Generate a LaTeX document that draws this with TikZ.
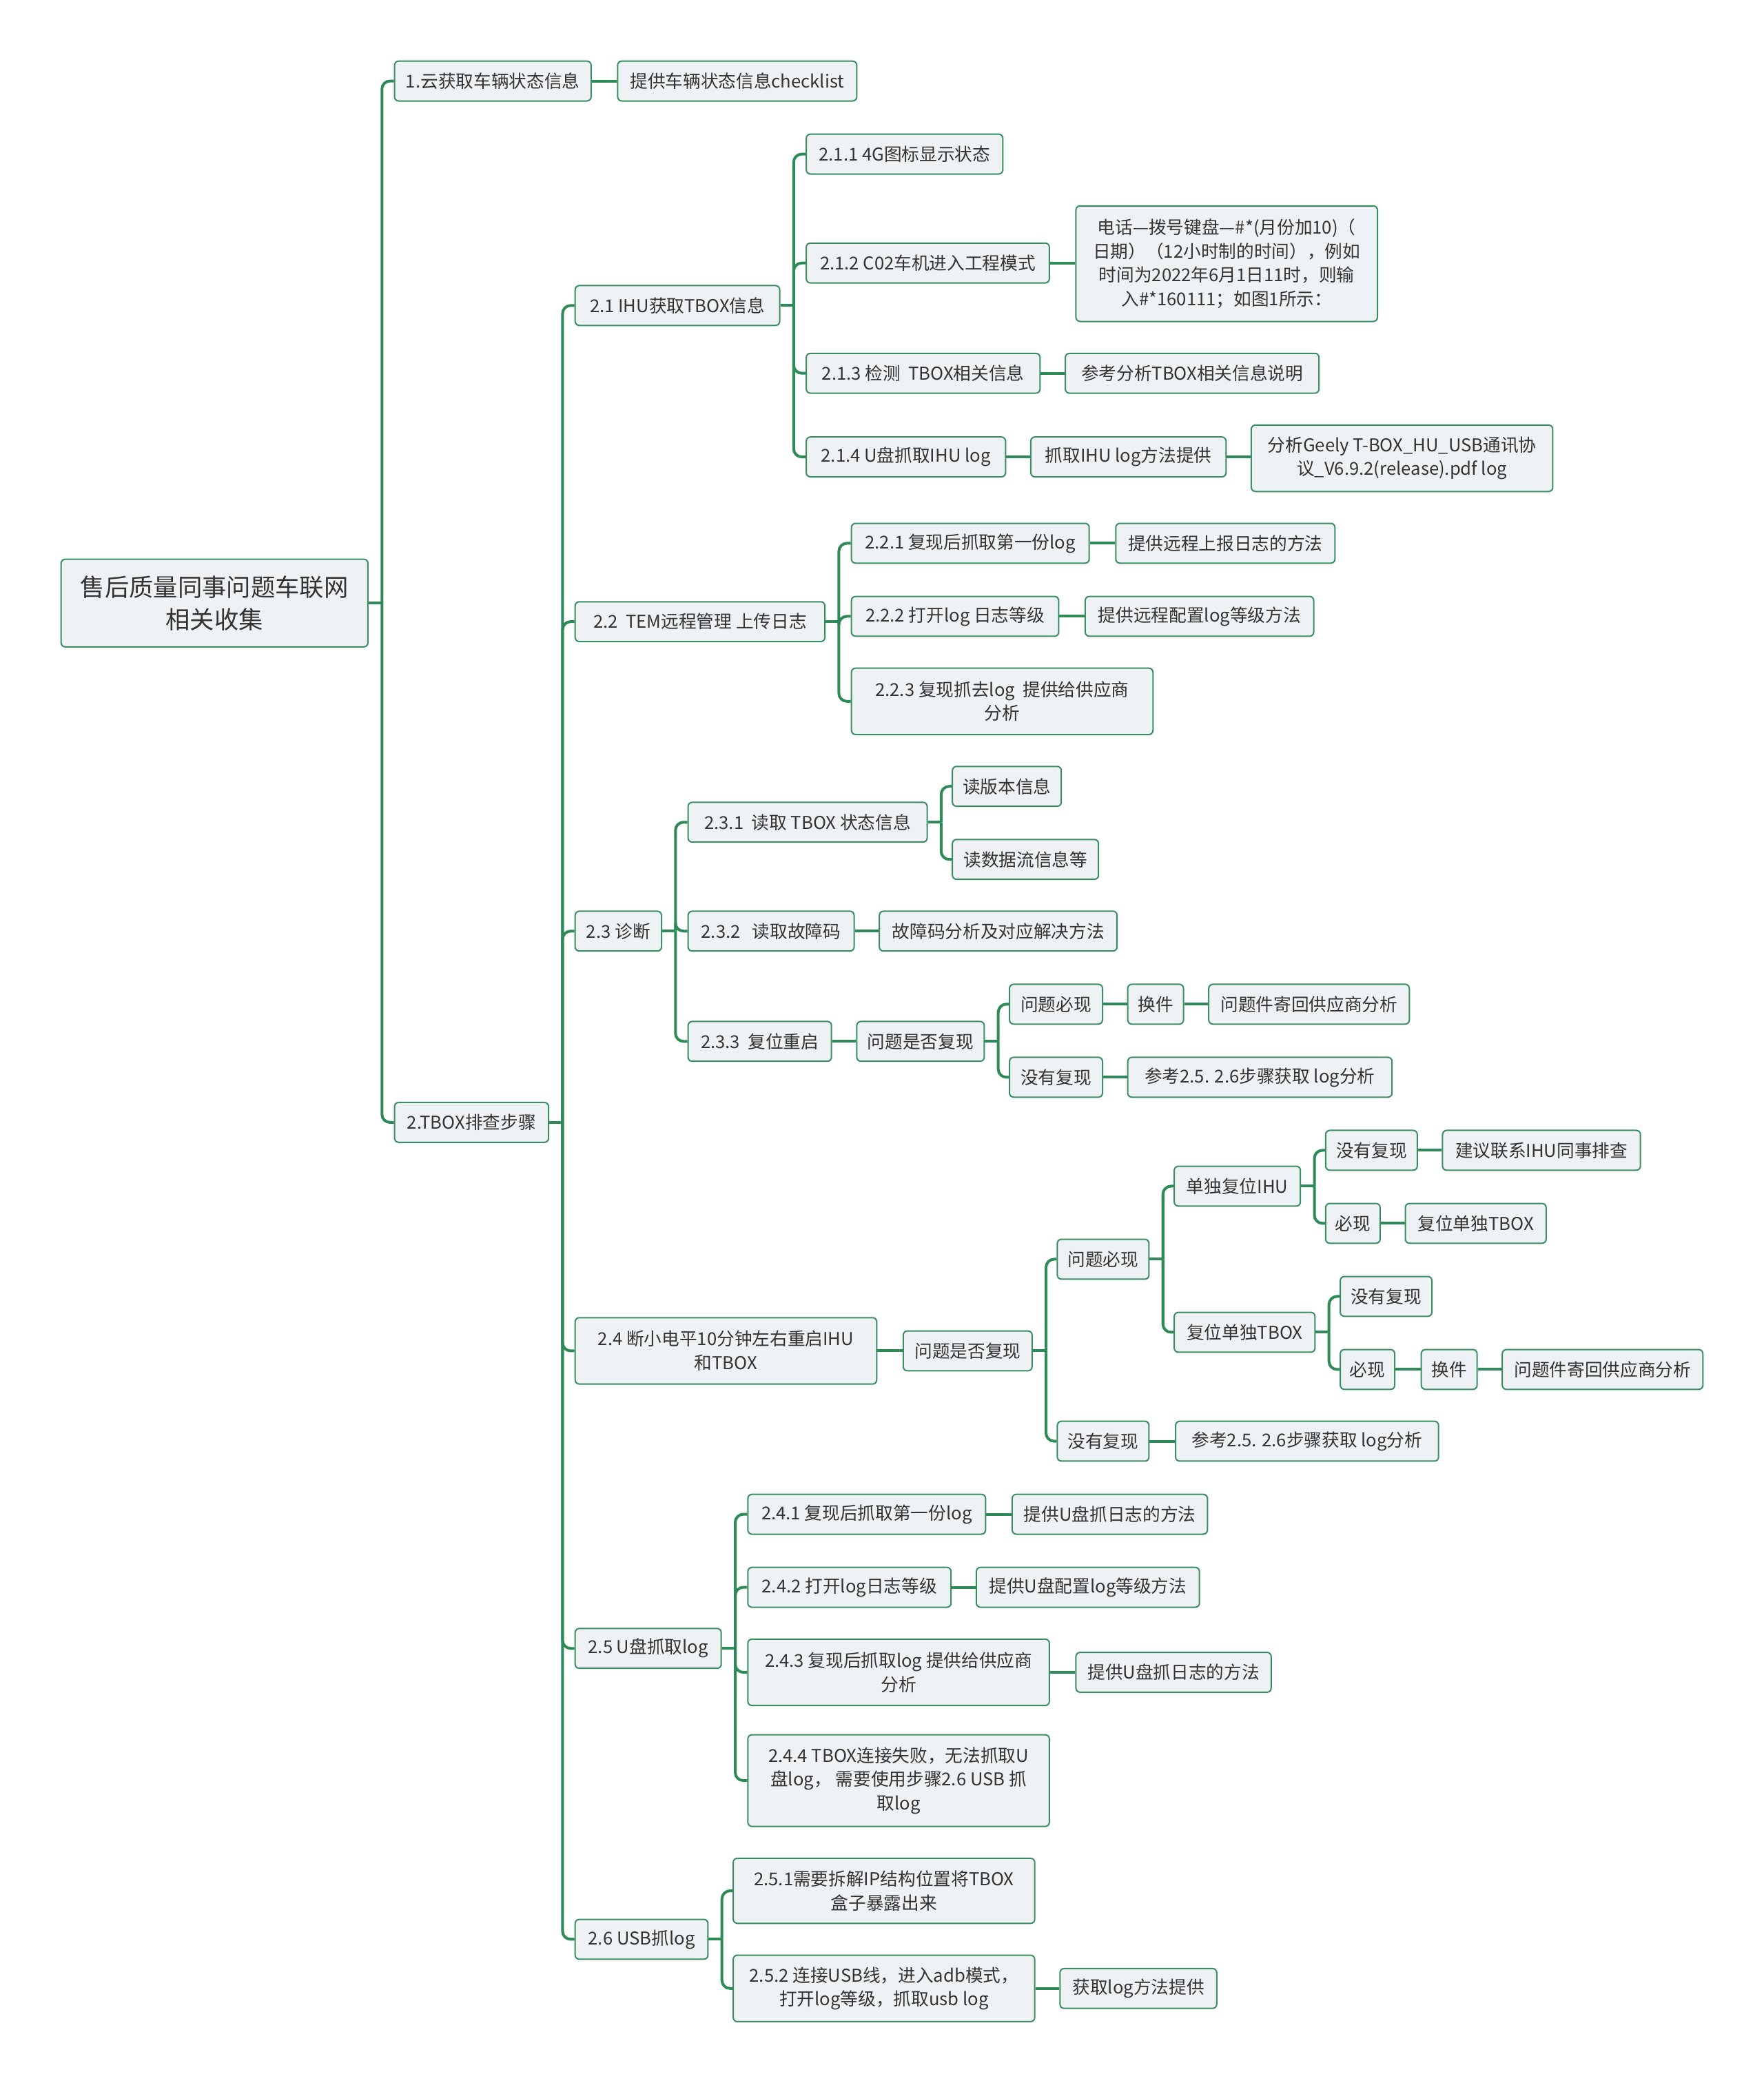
\documentclass[tikz,border=0pt]{standalone}
\usepackage{fontspec}
\setmainfont{Noto Sans CJK SC}
\definecolor{lnc}{HTML}{2E8B57}
\definecolor{bdc}{HTML}{3A8F60}
\definecolor{bfc}{HTML}{EEF2F4}
\definecolor{txc}{HTML}{333333}
\newcommand\bx[7][]{\node[bx,#1,minimum width={(#5-#3)*0.5783pt},minimum height={(#6-#4)*0.5783pt}] (#2) at ({(#3+#5)/2},{(#4+#6)/2}) {#7};}
\newcommand\lnk[2]{\draw[conn] (#1.east) -- ++(10,0) coordinate (#1bus); \draw[conn,rounded corners=3.5pt] (#1bus) |- (#2.west);}
\newcommand\lnks[2]{\draw[conn] (#1.east) -- (#1.east -| #2.west);}
\begin{document}
\begin{tikzpicture}[x=0.5783pt,y=-0.5783pt,
  bx/.style={draw=bdc,fill=bfc,rounded corners=1.8pt,line width=0.6pt,text=txc,
    font=\fontsize{7.7}{10.4}\selectfont,align=center,inner xsep=1pt,inner ysep=1pt},
  rootbx/.style={font=\fontsize{10.6}{14}\selectfont},
  conn/.style={draw=lnc,line width=1.2pt}]
\useasboundingbox[fill=white] (0,0) rectangle (1328,1568.2);
% root
\bx[rootbx]{root}{46}{421}{277}{487}{售后质量同事问题车联网\\相关收集}
% level 1
\bx{n1}{297}{46}{445}{76}{1.云获取车辆状态信息}
\bx{n1a}{465}{46}{645}{76}{提供车辆状态信息checklist}
\bx{n2}{297}{830}{413}{860}{2.TBOX排查步骤}
% level 2
\bx{n21}{433}{215}{587}{245}{2.1 IHU获取TBOX信息}
\bx{n22}{433}{453}{621}{483}{2.2~~TEM远程管理 上传日志}
\bx{n23}{433}{686}{498}{716}{2.3 诊断}
\bx{n24}{433}{992}{660}{1042}{2.4 断小电平10分钟左右重启IHU\\和TBOX}
\bx{n25}{433}{1226}{543}{1256}{2.5 U盘抓取log}
\bx{n26}{433}{1445}{533}{1475}{2.6 USB抓log}
% 2.1
\bx{n211}{607}{101}{755}{131}{2.1.1 4G图标显示状态}
\bx{n212}{607}{183}{790}{213}{2.1.2 C02车机进入工程模式}
\bx{n212a}{810}{155}{1037}{242}{电话—拨号键盘—\#*(月份加10)（\\日期）（12小时制的时间），例如\\时间为2022年6月1日11时，则输\\入\#*160111；如图1所示：}
\bx{n213}{607}{266}{783}{296}{2.1.3 检测~~TBOX相关信息}
\bx{n213a}{802}{266}{993}{296}{参考分析TBOX相关信息说明}
\bx{n214}{607}{329}{757}{359}{2.1.4 U盘抓取IHU log}
\bx{n214a}{776}{329}{923}{359}{抓取IHU log方法提供}
\bx{n214b}{942}{320}{1169}{370}{分析Geely T-BOX\_HU\_USB通讯协\\议\_V6.9.2(release).pdf log}
% 2.2
\bx{n221}{641}{394}{820}{424}{2.2.1 复现后抓取第一份log}
\bx{n221a}{840}{394}{1005}{424}{提供远程上报日志的方法}
\bx{n222}{641}{449}{797}{479}{2.2.2 打开log 日志等级}
\bx{n222a}{817}{449}{989}{479}{提供远程配置log等级方法}
\bx{n223}{641}{503}{868}{553}{2.2.3 复现抓去log~~提供给供应商\\分析}
% 2.3
\bx{n231}{518}{604}{698}{634}{2.3.1~~读取 TBOX 状态信息}
\bx{n231a}{717}{577}{799}{607}{读版本信息}
\bx{n231b}{717}{632}{827}{662}{读数据流信息等}
\bx{n232}{518}{686}{643}{716}{2.3.2~~~读取故障码}
\bx{n232a}{662}{686}{841}{716}{故障码分析及对应解决方法}
\bx{n233}{518}{769}{626}{799}{2.3.3~~复位重启}
\bx{n233a}{645}{769}{741}{799}{问题是否复现}
\bx{n233b}{760}{741}{830}{771}{问题必现}
\bx{n233b1}{849}{741}{891}{771}{换件}
\bx{n233b2}{910}{741}{1061}{771}{问题件寄回供应商分析}
\bx{n233c}{760}{796}{830}{826}{没有复现}
\bx{n233c1}{849}{796}{1048}{826}{参考2.5. 2.6步骤获取 log分析}
% 2.4
\bx{n24a}{680}{1002}{777}{1032}{问题是否复现}
\bx{n24b}{796}{933}{865}{963}{问题必现}
\bx{n24b1}{884}{878}{979}{908}{单独复位IHU}
\bx{n24b1a}{998}{851}{1067}{881}{没有复现}
\bx{n24b1a1}{1086}{851}{1235}{881}{建议联系IHU同事排查}
\bx{n24b1b}{998}{906}{1039}{936}{必现}
\bx{n24b1b1}{1058}{906}{1164}{936}{复位单独TBOX}
\bx{n24b2}{884}{988}{990}{1018}{复位单独TBOX}
\bx{n24b2a}{1009}{961}{1078}{991}{没有复现}
\bx{n24b2b}{1009}{1016}{1050}{1046}{必现}
\bx{n24b2b1}{1070}{1016}{1112}{1046}{换件}
\bx{n24b2b2}{1131}{1016}{1282}{1046}{问题件寄回供应商分析}
\bx{n24c}{796}{1070}{865}{1100}{没有复现}
\bx{n24c1}{885}{1070}{1083}{1100}{参考2.5. 2.6步骤获取 log分析}
% 2.5
\bx{n241}{563}{1125}{742}{1155}{2.4.1 复现后抓取第一份log}
\bx{n241a}{762}{1125}{909}{1155}{提供U盘抓日志的方法}
\bx{n242}{563}{1180}{716}{1210}{2.4.2 打开log日志等级}
\bx{n242a}{735}{1180}{903}{1210}{提供U盘配置log等级方法}
\bx{n243}{563}{1234}{790}{1284}{2.4.3 复现后抓取log 提供给供应商\\分析}
\bx{n243a}{810}{1244}{957}{1274}{提供U盘抓日志的方法}
\bx{n244}{563}{1306}{790}{1375}{2.4.4 TBOX连接失败，无法抓取U\\盘log， 需要使用步骤2.6 USB 抓\\取log}
% 2.6
\bx{n251}{552}{1399}{779}{1448}{2.5.1需要拆解IP结构位置将TBOX\\盒子暴露出来}
\bx{n252}{552}{1472}{779}{1522}{2.5.2 连接USB线，进入adb模式，\\打开log等级，抓取usb log}
\bx{n252a}{798}{1482}{916}{1512}{获取log方法提供}
% connectors
\lnk{root}{n1}\lnk{root}{n2}
\lnks{n1}{n1a}
\lnk{n2}{n21}\lnk{n2}{n22}\lnk{n2}{n23}\lnk{n2}{n24}\lnk{n2}{n25}\lnk{n2}{n26}
\lnk{n21}{n211}\lnk{n21}{n212}\lnk{n21}{n213}\lnk{n21}{n214}
\lnks{n212}{n212a}\lnks{n213}{n213a}\lnks{n214}{n214a}\lnks{n214a}{n214b}
\lnk{n22}{n221}\lnk{n22}{n222}\lnk{n22}{n223}
\lnks{n221}{n221a}\lnks{n222}{n222a}
\lnk{n23}{n231}\lnk{n23}{n232}\lnk{n23}{n233}
\lnk{n231}{n231a}\lnk{n231}{n231b}\lnks{n232}{n232a}
\lnks{n233}{n233a}\lnk{n233a}{n233b}\lnk{n233a}{n233c}
\lnks{n233b}{n233b1}\lnks{n233b1}{n233b2}\lnks{n233c}{n233c1}
\lnks{n24}{n24a}\lnk{n24a}{n24b}\lnk{n24a}{n24c}
\lnk{n24b}{n24b1}\lnk{n24b}{n24b2}
\lnk{n24b1}{n24b1a}\lnk{n24b1}{n24b1b}
\lnks{n24b1a}{n24b1a1}\lnks{n24b1b}{n24b1b1}
\lnk{n24b2}{n24b2a}\lnk{n24b2}{n24b2b}
\lnks{n24b2b}{n24b2b1}\lnks{n24b2b1}{n24b2b2}
\lnks{n24c}{n24c1}
\lnk{n25}{n241}\lnk{n25}{n242}\lnk{n25}{n243}\lnk{n25}{n244}
\lnks{n241}{n241a}\lnks{n242}{n242a}\lnks{n243}{n243a}
\lnk{n26}{n251}\lnk{n26}{n252}\lnks{n252}{n252a}
\end{tikzpicture}
\end{document}
